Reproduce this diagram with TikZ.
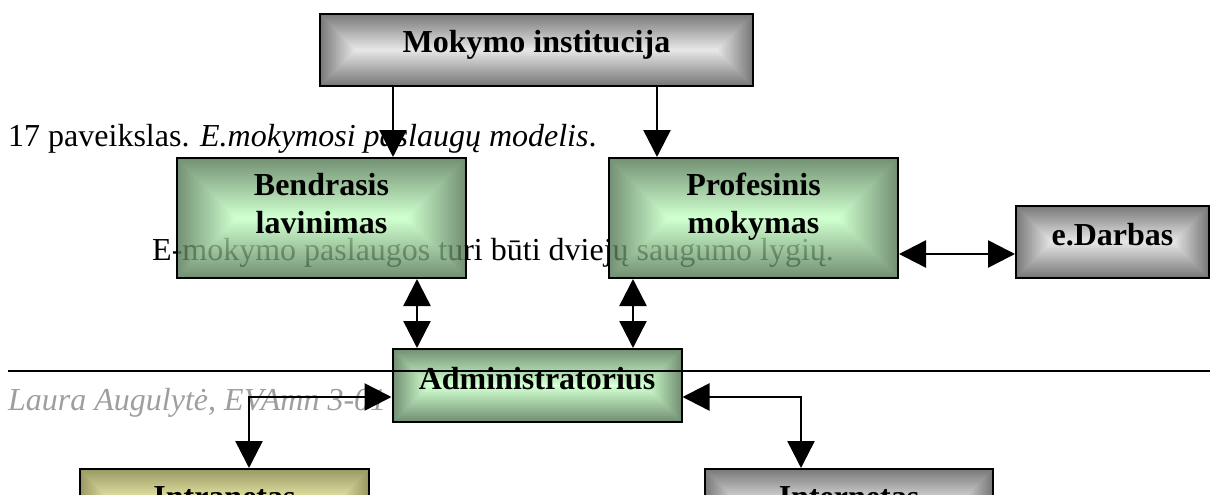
\documentclass[tikz,border=0pt]{standalone}
\usepackage{fontspec}
\setmainfont{Liberation Serif}
\usetikzlibrary{arrows.meta,calc}
\definecolor{gedge}{RGB}{80,118,80}
\definecolor{gcent}{RGB}{195,255,195}
\definecolor{kedge}{RGB}{88,88,88}
\definecolor{kcent}{RGB}{222,222,222}
\definecolor{yedge}{RGB}{128,128,60}
\definecolor{ycent}{RGB}{240,240,160}
\definecolor{foot}{RGB}{158,158,158}
\newcommand{\lab}[2]{\makebox[0pt]{\raisebox{#1}[0pt][0pt]{#2}}}
\tikzset{
  gradbox/.style n args={3}{draw=black, line width=2pt, inner sep=0pt,
    font=\fontsize{32}{38}\selectfont\bfseries,
    path picture={
      \foreach \i in {1,...,#3}{
        \pgfmathsetmacro{\gfrac}{100*(\i-1)/(#3-1)}
        \draw[line width=2pt, draw opacity=0.8, color=#2!\gfrac!#1]
          ($(path picture bounding box.south west)+(2*\i-1,-2*\i+1)$) rectangle
          ($(path picture bounding box.north east)+(-2*\i+1,2*\i-1)$);
      }
    }},
  greenbox/.style={gradbox={gedge}{gcent}{#1}},
  graybox/.style={gradbox={kedge}{kcent}{#1}},
  yelbox/.style={gradbox={yedge}{ycent}{#1}},
  bodytext/.style={anchor=base west, inner sep=0pt, font=\fontsize{32}{38}\selectfont},
  arr/.style={line width=2.5pt, -{Triangle[length=27pt,width=27pt]}},
  dbl/.style={line width=2.5pt, {Triangle[length=27pt,width=27pt]}-{Triangle[length=27pt,width=27pt]}},
}
\begin{document}
\begin{tikzpicture}[x=1pt,y=-1pt]
\useasboundingbox (0,0) rectangle (1210,495);
\clip (0,0) rectangle (1210,495);
% body texts (under the boxes)
\node[bodytext] (caption) at (8,146) {17 paveikslas. \textit{E.mokymosi paslaugų modelis}.};
\node[bodytext] (body) at (152,260) {E-mokymo paslaugos turi būti dviejų saugumo lygių.};
\node[bodytext, text=foot] (footer) at (8,410) {\textit{Laura Augulytė, EVAmn 3-01}};
% boxes
\node[graybox=18, minimum width=433pt, minimum height=72pt] (mok) at (536.5,50) {\lab{-3pt}{Mokymo institucija}};
\node[greenbox=30, minimum width=289pt, minimum height=120pt] (bend) at (321.5,218) {\lab{23pt}{Bendrasis}\lab{-15pt}{lavinimas}};
\node[greenbox=30, minimum width=289pt, minimum height=120pt] (prof) at (753.5,218) {\lab{23pt}{Profesinis}\lab{-15pt}{mokymas}};
\node[graybox=18, minimum width=193pt, minimum height=72pt] (edarb) at (1112.5,242) {\lab{-3pt}{e.Darbas}};
\node[greenbox=18, minimum width=289pt, minimum height=73pt] (adm) at (537,385.5) {\lab{-3.5pt}{Administratorius}};
\node[yelbox=18, minimum width=289pt, minimum height=72pt] (intra) at (224.5,505) {\lab{-2pt}{Intranetas}};
\node[graybox=18, minimum width=288pt, minimum height=72pt] (inter) at (849,505) {\lab{-2pt}{Internetas}};
% helper coordinates
\coordinate (xA) at (393,0);
\coordinate (xB) at (657,0);
\coordinate (xC) at (417,0);
\coordinate (xD) at (633,0);
\coordinate (xE) at (249,0);
\coordinate (xF) at (801,0);
\coordinate (yE) at (0,254);
\coordinate (yA) at (0,397);
% connectors
\draw[arr] (mok.south -| xA) -- (bend.north -| xA);
\draw[arr] (mok.south -| xB) -- (prof.north -| xB);
\draw[dbl] (prof.east |- yE) -- (edarb.west |- yE);
\draw[dbl] (bend.south -| xC) -- (adm.north -| xC);
\draw[dbl] (prof.south -| xD) -- (adm.north -| xD);
\draw[dbl] (adm.west |- yA) -| (intra.north -| xE);
\draw[dbl] (adm.east |- yA) -| (inter.north -| xF);
% header/footer rule
\coordinate (ruleL) at (8,371);
\coordinate (ruleR) at (1210,371);
\draw[line width=2.5pt] (ruleL) -- (ruleR);
\end{tikzpicture}
\end{document}
